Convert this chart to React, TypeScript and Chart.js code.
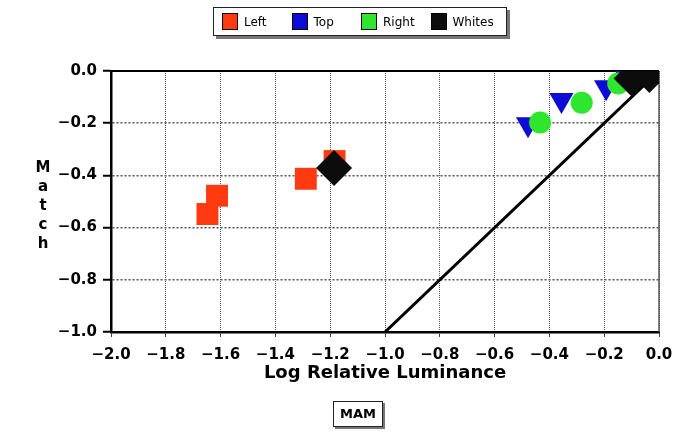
import React, { useEffect, useRef } from 'react';
import { Chart, registerables } from 'chart.js';

Chart.register(...registerables);

// ---- data ----
const seriesNames = ['Left', 'Top', 'Right', 'Whites'];
const seriesColors = ['#ff3a10', '#0c0cd4', '#2ee62e', '#0c0c0c'];

const leftX = [-1.648, -1.613, -1.289, -1.184];
const leftY = [-0.548, -0.478, -0.413, -0.345];

const topX = [-0.478, -0.356, -0.193, -0.12];
const topY = [-0.204, -0.111, -0.062, -0.02];

const rightX = [-0.434, -0.282, -0.149];
const rightY = [-0.197, -0.122, -0.048];

const whitesX = [-1.186, -0.1, -0.035];
const whitesY = [-0.372, -0.029, -0.015];

const identityX = [-1.0, 0.0];
const identityY = [-1.0, 0.0];

const xTickValues = [-2.0, -1.8, -1.6, -1.4, -1.2, -1.0, -0.8, -0.6, -0.4, -0.2, 0.0];
const yTickValues = [-1.0, -0.8, -0.6, -0.4, -0.2, 0.0];

const xTitle = 'Log Relative Luminance';
const yTitle = 'Match';
const footLabel = 'MAM';

const zip = (xs: number[], ys: number[]) => xs.map((x, i) => ({ x, y: ys[i] }));
const fmt = (v: number) => (Math.abs(v) < 1e-9 ? '0.0' : (v < 0 ? '\u2212' : '') + Math.abs(v).toFixed(1));

const FONT = '"DejaVu Sans", sans-serif';

const frameLines = {
  id: 'frameLines',
  beforeDatasetsDraw(chart: any) {
    const { ctx, chartArea, scales } = chart;
    const y0 = scales.y.getPixelForValue(0);
    const x0 = scales.x.getPixelForValue(0);
    ctx.save();
    ctx.strokeStyle = '#555';
    ctx.lineWidth = 1.5;
    ctx.beginPath();
    ctx.moveTo(x0, chartArea.top);
    ctx.lineTo(x0, chartArea.bottom);
    ctx.stroke();
    ctx.strokeStyle = '#000';
    ctx.lineWidth = 2;
    ctx.beginPath();
    ctx.moveTo(chartArea.left, y0);
    ctx.lineTo(chartArea.right, y0);
    ctx.stroke();
    ctx.restore();
  },
  afterDraw(chart: any) {
    const { ctx } = chart;
    ctx.save();
    ctx.fillStyle = '#000';
    ctx.font = 'bold 15px ' + FONT;
    ctx.textAlign = 'center';
    ctx.textBaseline = 'alphabetic';
    yTitle.split('').forEach((ch, i) => {
      ctx.fillText(ch, 43, 172 + i * 19);
    });
    ctx.restore();
  },
};

export default function App() {
  const ref = useRef<HTMLCanvasElement>(null);

  useEffect(() => {
    if (!ref.current) return;
    const chart = new Chart(ref.current, {
      type: 'scatter',
      data: {
        datasets: [
          {
            label: 'identity',
            data: zip(identityX, identityY),
            showLine: true,
            borderColor: '#000',
            borderWidth: 3,
            pointRadius: 0,
            order: 5,
          } as any,
          {
            label: seriesNames[0],
            data: zip(leftX, leftY),
            pointStyle: 'rect',
            pointRadius: 15.5,
            backgroundColor: seriesColors[0],
            borderWidth: 0,
            order: 4,
          },
          {
            label: seriesNames[1],
            data: zip(topX, topY),
            pointStyle: 'triangle',
            rotation: 180,
            pointRadius: 14,
            backgroundColor: seriesColors[1],
            borderWidth: 0,
            order: 3,
          },
          {
            label: seriesNames[2],
            data: zip(rightX, rightY),
            pointStyle: 'circle',
            pointRadius: 11,
            backgroundColor: seriesColors[2],
            borderWidth: 0,
            order: 2,
          },
          {
            label: seriesNames[3],
            data: zip(whitesX, whitesY),
            pointStyle: 'rectRot',
            pointRadius: 18,
            backgroundColor: seriesColors[3],
            borderWidth: 0,
            order: 1,
          },
        ],
      },
      options: {
        animation: false,
        responsive: false,
        events: [],
        layout: { padding: { top: 71, right: 41, left: 0, bottom: 0 } },
        plugins: {
          legend: { display: false },
          tooltip: { enabled: false },
          title: { display: false },
        },
        scales: {
          x: {
            type: 'linear',
            min: -2,
            max: 0,
            afterBuildTicks: (s: any) => {
              s.ticks = xTickValues.map((v) => ({ value: v }));
            },
            afterFit: (s: any) => {
              s.height = 102;
            },
            ticks: {
              callback: (v: any) => fmt(Number(v)),
              font: { family: FONT, size: 15, weight: 'bold' },
              color: '#000',
              padding: 9,
              maxRotation: 0,
              autoSkip: false,
            },
            grid: {
              color: '#555',
              lineWidth: 1,
              tickLength: 5,
              tickColor: '#444',
              tickWidth: 1,
            },
            border: { display: true, color: '#000', width: 2.5, dash: [1, 1] },
            title: {
              display: true,
              text: xTitle,
              color: '#000',
              font: { family: FONT, size: 18, weight: 'bold' },
              padding: { top: 0, bottom: 50 },
            },
          },
          y: {
            type: 'linear',
            min: -1,
            max: 0,
            afterBuildTicks: (s: any) => {
              s.ticks = yTickValues.map((v) => ({ value: v }));
            },
            afterFit: (s: any) => {
              s.width = 111;
            },
            ticks: {
              callback: (v: any) => fmt(Number(v)),
              font: { family: FONT, size: 15, weight: 'bold' },
              color: '#000',
              padding: 6,
              autoSkip: false,
            },
            grid: {
              color: '#555',
              lineWidth: 1.5,
              tickLength: 8,
              tickColor: '#000',
              tickWidth: 2,
            },
            border: { display: true, color: '#000', width: 2.5, dash: [2, 2] },
          },
        },
      },
      plugins: [frameLines],
    } as any);
    return () => chart.destroy();
  }, []);

  return (
    <div style={{ position: 'absolute', left: 0, top: 0, width: 700, height: 434, background: '#fff' }}>
      <canvas ref={ref} width={700} height={434} style={{ display: 'block' }} />
      <div
        style={{
          position: 'absolute',
          left: 213,
          top: 7,
          width: 284,
          height: 27,
          border: '1px solid #222',
          background: '#fff',
          boxShadow: '3px 3px 0 #777',
          display: 'flex',
          alignItems: 'center',
          paddingLeft: 8,
          boxSizing: 'content-box',
          fontFamily: FONT,
          fontSize: 12,
          color: '#000',
        }}
      >
        {seriesNames.map((name, i) => (
          <div key={name} style={{ display: 'flex', alignItems: 'center', width: 69.5, flex: '0 0 auto' }}>
            <div
              style={{
                width: 14,
                height: 15,
                background: seriesColors[i],
                border: '1px solid #000',
                marginRight: 6,
              }}
            />
            <span>{name}</span>
          </div>
        ))}
      </div>
      <div
        style={{
          position: 'absolute',
          left: 333,
          top: 401,
          width: 48,
          height: 24,
          border: '1px solid #222',
          background: '#fff',
          boxShadow: '2px 2px 0 #777',
          fontFamily: FONT,
          fontWeight: 'bold',
          fontSize: 13,
          lineHeight: '24px',
          textAlign: 'center',
          color: '#000',
        }}
      >
        {footLabel}
      </div>
    </div>
  );
}
